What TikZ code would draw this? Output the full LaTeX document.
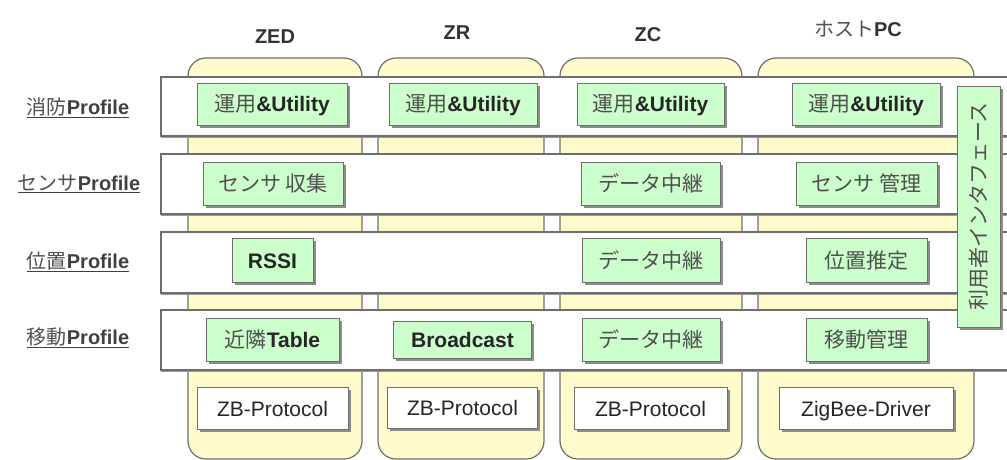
\documentclass[tikz,border=0pt]{standalone}
\usepackage{fontspec}
\setmainfont{Liberation Sans}
\newfontfamily\jp{Noto Sans CJK JP}
\usetikzlibrary{shadows}
\definecolor{colfill}{HTML}{FFFBCC}
\definecolor{greenfill}{HTML}{CCFFCC}
\definecolor{edgegray}{HTML}{6E6E6E}
\definecolor{jptext}{HTML}{505050}
\newcommand{\J}[1]{{\jp\mdseries\color{jptext}#1}}
\tikzset{
  column/.style={draw=edgegray, line width=1.2pt, fill=colfill, rounded corners=18pt},
  band/.style={draw=edgegray, line width=1.2pt, fill=white,
    drop shadow={shadow xshift=0pt, shadow yshift=-2pt, fill=gray!80, opacity=1}},
  boxbase/.style={draw=edgegray, line width=1pt, inner sep=0pt, font=\fontsize{21}{23}\selectfont,
    text height=17pt, text depth=2pt,
    drop shadow={shadow xshift=2.5pt, shadow yshift=-2.5pt, fill=gray!90, opacity=1}},
  gbox/.style={boxbase, fill=greenfill, text=black!85},
  wbox/.style={boxbase, fill=white, text=black!85},
  head/.style={font=\fontsize{20}{22}\selectfont\bfseries, text=black!80},
  profile/.style={font=\fontsize{20}{22}\selectfont\bfseries, text=black!75, inner sep=1pt}
}
\begin{document}
\begin{tikzpicture}[x=1pt, y=-1pt]
\useasboundingbox (0,0) rectangle (1007,459);

% device columns
\draw[column] (188,58) rectangle (362,459);
\draw[column] (378,58) rectangle (544,459);
\draw[column] (560,58) rectangle (742,459);
\draw[column] (758,58) rectangle (974,459);

% column headings
\node[head] (hzed) at (275,37) {ZED};
\node[head] (hzr)  at (457,33) {ZR};
\node[head] (hzc)  at (648,35) {ZC};
\node[head] (hpc)  at (858,29) {\J{ホスト}PC};

% profile bands
\draw[band] (161,77) rectangle (1012,136);
\draw[band] (161,154) rectangle (1012,214);
\draw[band] (161,232) rectangle (1012,293);
\draw[band] (161,310) rectangle (1012,370);

% profile labels
\node[profile] (p1) at (78,108) {\underline{\J{消防}Profile}};
\node[profile] (p2) at (79,184) {\underline{\J{センサ}Profile}};
\node[profile] (p3) at (78,262) {\underline{\J{位置}Profile}};
\node[profile] (p4) at (78,338) {\underline{\J{移動}Profile}};

% row 1: operation & utility
\node[gbox, minimum width=150pt, minimum height=42pt] (u1) at (272,104) {\J{運用}\textbf{\&Utility}};
\node[gbox, minimum width=148pt, minimum height=42pt] (u2) at (463,104) {\J{運用}\textbf{\&Utility}};
\node[gbox, minimum width=147pt, minimum height=42pt] (u3) at (650.5,104) {\J{運用}\textbf{\&Utility}};
\node[gbox, minimum width=148pt, minimum height=42pt] (u4) at (866,104) {\J{運用}\textbf{\&Utility}};

% row 2: sensor profile
\node[gbox, minimum width=140pt, minimum height=43pt] (s1) at (273,183.5) {\J{センサ 収集}};
\node[gbox, minimum width=139pt, minimum height=43pt] (s3) at (650.5,183.5) {\J{データ中継}};
\node[gbox, minimum width=141pt, minimum height=43pt] (s4) at (866.5,183.5) {\J{センサ 管理}};

% row 3: location profile
\node[gbox, minimum width=81pt, minimum height=44pt] (l1) at (272.5,260.5) {\textbf{RSSI}};
\node[gbox, minimum width=138pt, minimum height=44pt] (l3) at (651,260.5) {\J{データ中継}};
\node[gbox, minimum width=121pt, minimum height=44pt] (l4) at (866.5,260.5) {\J{位置推定}};

% row 4: mobility profile
\node[gbox, minimum width=133pt, minimum height=43pt] (m1) at (272.5,339.5) {\J{近隣}\textbf{Table}};
\node[gbox, minimum width=138pt, minimum height=37pt] (m2) at (462.5,339.5) {\textbf{Broadcast}};
\node[gbox, minimum width=138pt, minimum height=43pt] (m3) at (651,339.5) {\J{データ中継}};
\node[gbox, minimum width=121pt, minimum height=43pt] (m4) at (866.5,339.5) {\J{移動管理}};

% protocol layer
\node[wbox, minimum width=151pt, minimum height=42pt] (z1) at (272.5,408.5) {ZB-Protocol};
\node[wbox, minimum width=150pt, minimum height=41pt] (z2) at (462.5,408) {ZB-Protocol};
\node[wbox, minimum width=153pt, minimum height=42pt] (z3) at (650.5,408.5) {ZB-Protocol};
\node[wbox, minimum width=174pt, minimum height=42pt] (z4) at (866,408.5) {ZigBee-Driver};

% user interface
\node[gbox, minimum width=241pt, minimum height=43pt, rotate=90] (ui) at (978.5,206.5) {\J{利用者インタフェース}};
\end{tikzpicture}
\end{document}
